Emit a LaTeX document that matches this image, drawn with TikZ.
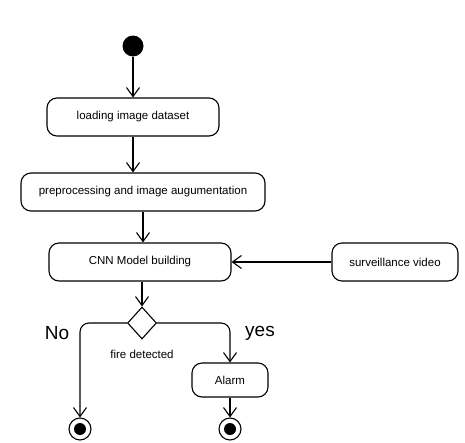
\documentclass[tikz,border=0pt]{standalone}
\usepackage{fontspec}
\setmainfont{Liberation Sans}
\usetikzlibrary{shapes.geometric,arrows.meta}
\tikzset{%
  activity/.style = {draw, line width=1.1pt, rounded corners=10pt,
    rectangle, minimum height=38pt, font=\fontsize{11.5}{13}\selectfont},
  decision/.style = {draw, line width=1.1pt, diamond, minimum width=29pt,
    minimum height=32pt, inner sep=0pt}, % Branch
  initial/.style  = {circle, fill=black, minimum size=21pt, inner sep=0pt}, % Start
  final/.style    = {circle, draw, line width=1.1pt, minimum size=22pt,
    inner sep=0pt, path picture={\fill[black] (path picture bounding box.center)
    circle (6pt);}}, % End
  guard/.style    = {font=\fontsize{19}{21}\selectfont}
}
\begin{document}
\begin{tikzpicture}[x=1pt, y=-1pt, line width=1.1pt,
  >={Straight Barb[length=9pt, width=13pt, line width=1.1pt]}]
\useasboundingbox (0,0) rectangle (465,442);
\draw
	% Drawing the main activities :
	node at (133,46) [initial] (start) {}
	node at (133,117) [activity, minimum width=172pt] (load) {loading image dataset}
	node at (143,192) [activity, minimum width=244pt] (prep) {preprocessing and image augumentation}
	node at (140,262) [activity, minimum width=182pt] (cnn) {CNN Model building}
	node at (395,262) [activity, minimum width=126pt] (video) {surveillance video}
;
	% Joining the activities
	\draw[->] (start) -- (load);
	\draw[->] (load) -- (load |- prep.north);
	\draw[->] (prep) -- (prep |- cnn.north);
	\draw[->] (video) -- (cnn);
	% Decision and its branches
\draw
	node at (142,323) [decision] (fire) {}
	node at (142,354) [font=\fontsize{11.5}{13}\selectfont] (firelbl) {fire detected}
	node at (230,380) [activity, minimum width=76pt, minimum height=34pt] (alarm) {Alarm}
	node at (80,429) [final] (endno) {}
	node at (230,429) [final] (endyes) {}
	node at (57,333) [guard] (nolbl) {No}
	node at (260,333) [guard] (yeslbl) {yes}
;
	\draw[->] (cnn.south -| fire) -- (fire);
	\draw[->, rounded corners=9pt] (fire) -| (endno);
	\draw[->, rounded corners=9pt] (fire) -| (alarm);
	\draw[->] (alarm) -- (endyes);
\end{tikzpicture}
\end{document}
